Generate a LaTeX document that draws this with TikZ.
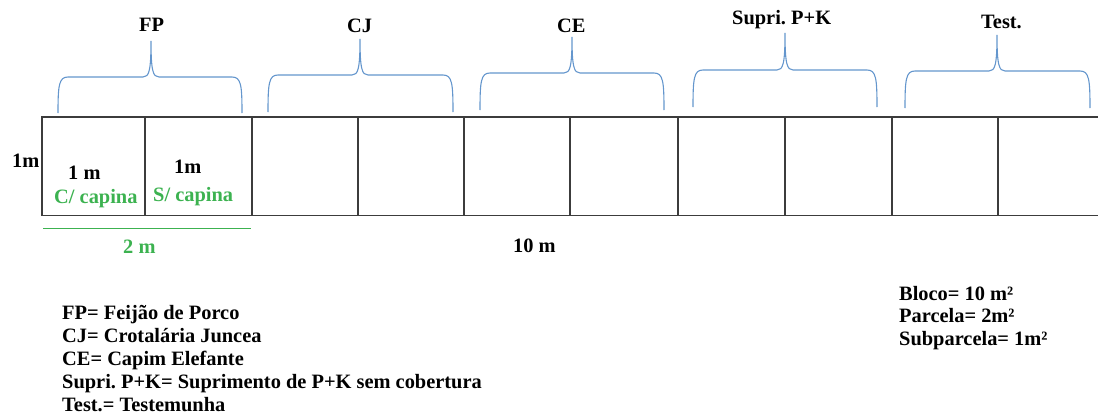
\documentclass[tikz,border=0pt]{standalone}
\usepackage{fontspec}
\setmainfont{Liberation Serif}
\frenchspacing
\definecolor{capgreen}{RGB}{60,178,80}
\definecolor{braceblue}{RGB}{100,150,205}
\definecolor{gridgray}{RGB}{60,60,60}
\newcommand\topbrace[6]{% left, right, bottom, mid, tipx, tipy
  \draw[bracestyle] (#1,#3) .. controls (#1,#4+8) and (#1+1,#4) .. (#1+10,#4)
    -- (#5-8,#4) .. controls (#5-2,#4) and (#5,#4-6) .. (#5,#6)
    (#5,#6) .. controls (#5,#4-6) and (#5+2,#4) .. (#5+8,#4)
    -- (#2-10,#4) .. controls (#2-1,#4) and (#2,#4+8) .. (#2,#3);}
\begin{document}
\begin{tikzpicture}[x=1pt,y=-1pt,
  lbl/.style={anchor=base west,inner sep=0pt,font=\fontsize{20.4}{24}\selectfont\bfseries},
  glbl/.style={lbl,text=capgreen},
  bracestyle/.style={draw=braceblue,line width=1.1pt},
  grid/.style={draw=gridgray,line width=1.3pt}]
\useasboundingbox (0,0) rectangle (1098,415);
% plot grid
\coordinate (tl) at (42,117);
\coordinate (bl) at (42,215.5);
\coordinate (tr) at (1098,117);
\coordinate (br) at (1098,215.5);
\draw[grid] (tr) -- (tl) -- (bl) -- (br);
\foreach \x in {145,252,358,464,570,678,785,892,998}
  \draw[grid] (\x,117) -- (\x,215.5);
% braces
\topbrace{58}{242}{113}{77}{151}{41}
\topbrace{268}{453}{112}{75}{360}{39}
\topbrace{480}{664}{110}{73}{572}{37}
\topbrace{693}{877}{107}{70}{785}{33}
\topbrace{905}{1090}{108}{71}{997}{35}
% top labels
\node[lbl] (fp) at (139,31) {FP};
\node[lbl] (cj) at (347,32) {CJ};
\node[lbl] (ce) at (557,32) {CE};
\node[lbl] (sp) at (732,24) {Supri. P+K};
\node[lbl] (ts) at (981,28) {Test.};
% dimensions
\node[lbl] (h1) at (12,167) {1m};
\node[lbl] (w1) at (68,179) {1 m};
\node[glbl] (cc) at (54,203) {C/ capina};
\node[lbl] (w2) at (174,173) {1m};
\node[glbl] (sc) at (153,201) {S/ capina};
\coordinate (gl) at (43,228.5);
\coordinate (gr) at (251,228.5);
\draw[draw=capgreen,line width=1.1pt] (gl) -- (gr);
\node[glbl] (two) at (123,253) {2 m};
\node[lbl] (ten) at (513,252) {10 m};
% legend
\node[lbl] (l1) at (62,319) {FP= Feijão de Porco};
\node[lbl] (l2) at (62,342) {CJ= Crotalária Juncea};
\node[lbl] (l3) at (62,365) {CE= Capim Elefante};
\node[lbl] (l4) at (62,388) {Supri. P+K= Suprimento de P+K sem cobertura};
\node[lbl] (l5) at (62,411) {Test.= Testemunha};
\node[lbl] (r1) at (899,300) {Bloco= 10 m²};
\node[lbl] (r2) at (899,322.5) {Parcela= 2m²};
\node[lbl] (r3) at (899,345) {Subparcela= 1m²};
\end{tikzpicture}
\end{document}
